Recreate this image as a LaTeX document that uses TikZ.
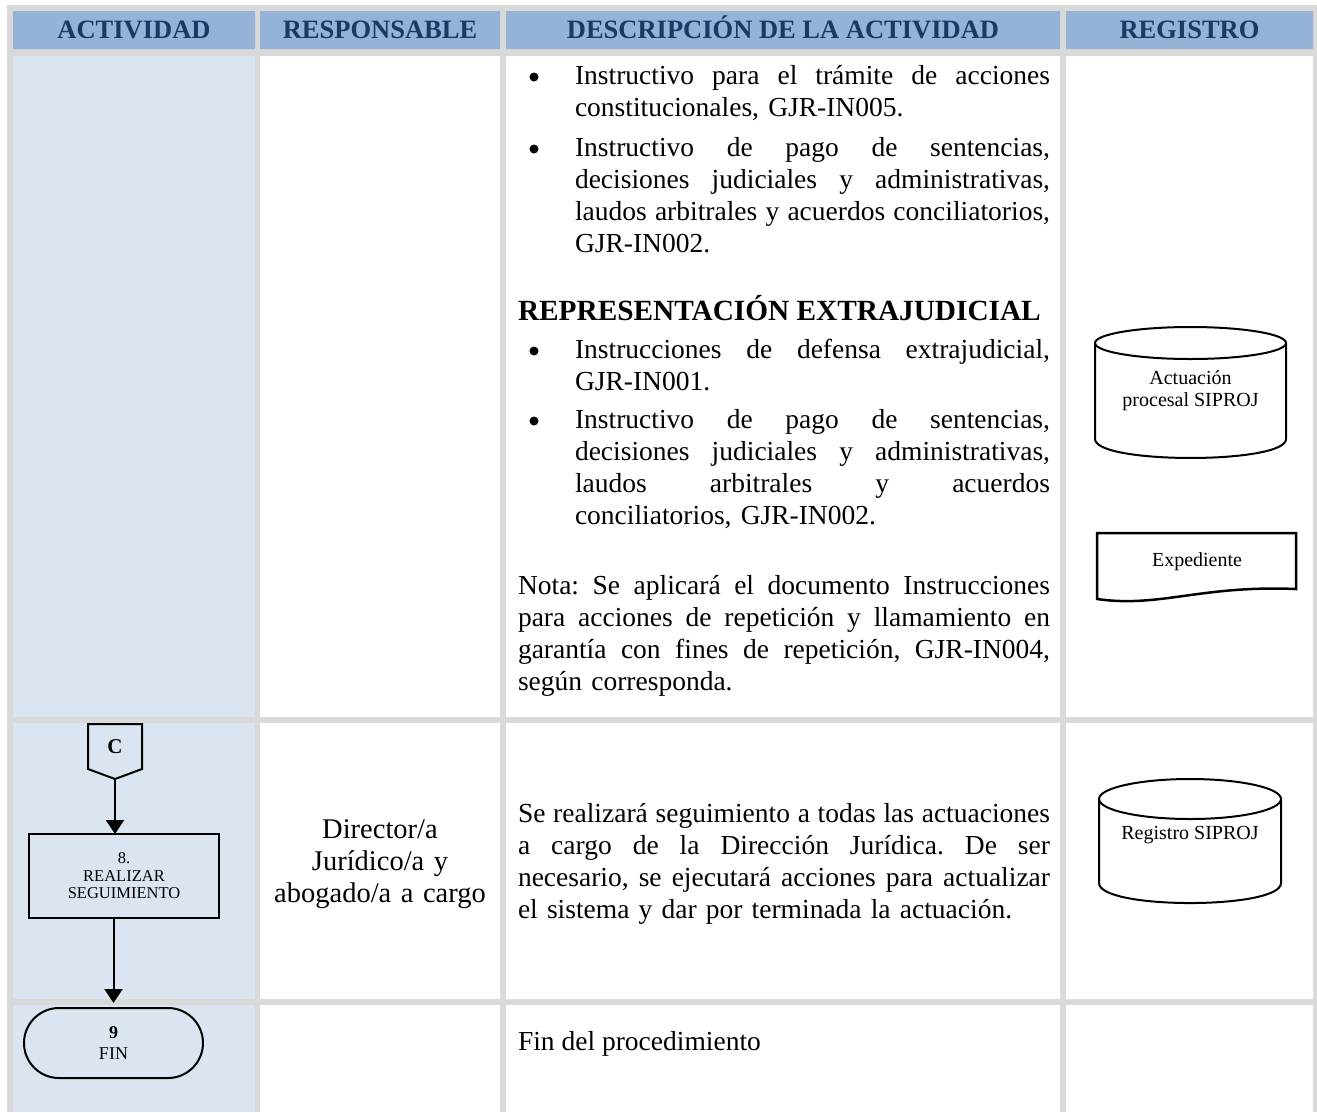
\documentclass[tikz,border=0pt]{standalone}
\usepackage{fontspec}
\setmainfont{Liberation Serif}
\usetikzlibrary{arrows.meta,calc}
\definecolor{gridgrey}{HTML}{D9D9D9}
\definecolor{headblue}{HTML}{95B3D7}
\definecolor{colblue}{HTML}{DBE5F1}
\definecolor{headtext}{HTML}{1B3A63}
\frenchspacing
\newcommand\JLa[1]{\leavevmode\hbox to 475bp{\spaceskip=0.25em plus 1em minus 0.08em\relax #1}}
\newcommand\JLb[1]{\leavevmode\hbox to 532bp{\spaceskip=0.25em plus 1em minus 0.08em\relax #1}}
\begin{document}
\begin{tikzpicture}[x=1bp,y=-1bp,
  every node/.style={inner sep=0pt, outer sep=0pt},
  hdr/.style={font=\fontsize{26.5bp}{30bp}\selectfont\bfseries, text=headtext, anchor=base},
  body/.style={font=\fontsize{27.5bp}{32bp}\selectfont, anchor=base west, align=left},
  dot/.style={circle, fill=black, minimum size=9bp},
  shapeline/.style={draw=black, line width=2bp},
  small/.style={font=\fontsize{16.5bp}{17.5bp}\selectfont, align=center},
  termtext/.style={font=\fontsize{18bp}{21bp}\selectfont, align=center},
  reg/.style={font=\fontsize{20bp}{22bp}\selectfont, align=center},
  flow/.style={line width=2bp, -{Triangle[width=18bp,length=14bp]}},
]
\useasboundingbox (0,0) rectangle (1317,1112);
\fill[white] (0,0) rectangle (1317,1112);
\fill[gridgrey] (7,5) rectangle (1317,1112);
% header cells
\fill[headblue] (13,11) rectangle (255,49) (260,11) rectangle (500,49)
  (506,11) rectangle (1060,49) (1066,11) rectangle (1313,49);
% body cells
\foreach \ya/\yb in {56/717, 723/999, 1005/1112} {
  \fill[colblue] (13,\ya) rectangle (255,\yb);
  \fill[white] (260,\ya) rectangle (500,\yb) (506,\ya) rectangle (1060,\yb)
    (1066,\ya) rectangle (1313,\yb);
}
% header texts
\node[hdr] (hact) at (134,38) {ACTIVIDAD};
\node[hdr] (hresp) at (380,38) {RESPONSABLE};
\node[hdr] (hdesc) at (783,38) {DESCRIPCIÓN DE LA ACTIVIDAD};
\node[hdr] (hreg) at (1189.5,38) {REGISTRO};

% row 1 description
\node[dot] (b1) at (534,77) {};
\node[body, text width=475bp] (d1) at (575,84)
  {\JLa{Instructivo para el trámite de acciones}\\constitucionales, GJR-IN005.};
\node[dot] (b2) at (534,149) {};
\node[body, text width=475bp] (d2) at (575,156)
  {\JLa{Instructivo de pago de sentencias,}\\\JLa{decisiones judiciales y administrativas,}\\\JLa{laudos arbitrales y acuerdos conciliatorios,}\\GJR-IN002.};
\node[font=\fontsize{29.3bp}{32bp}\selectfont\bfseries, anchor=base west] (rext) at (518,320)
  {REPRESENTACIÓN EXTRAJUDICIAL};
\node[dot] (b3) at (534,351) {};
\node[body, text width=475bp] (d3) at (575,358)
  {\JLa{Instrucciones de defensa extrajudicial,}\\GJR-IN001.};
\node[dot] (b4) at (534,421) {};
\node[body, text width=475bp] (d4) at (575,428)
  {\JLa{Instructivo de pago de sentencias,}\\\JLa{decisiones judiciales y administrativas,}\\\JLa{laudos arbitrales y acuerdos}\\conciliatorios, GJR-IN002.};
\node[body, text width=532bp] (nota) at (518,594)
  {\JLb{Nota: Se aplicará el documento Instrucciones}\\\JLb{para acciones de repetición y llamamiento en}\\\JLb{garantía con fines de repetición, GJR-IN004,}\\según corresponda.};

% row 2
\node[font=\fontsize{28.5bp}{32bp}\selectfont, text width=240bp, align=center, anchor=base] (resp) at (380,838)
  {Director/a\\Jurídico/a y\\abogado/a a cargo};
\node[body, text width=532bp] (d8) at (518,822)
  {\JLb{Se realizará seguimiento a todas las actuaciones}\\\JLb{a cargo de la Dirección Jurídica. De ser}\\\JLb{necesario, se ejecutará acciones para actualizar}\\el sistema y dar por terminada la actuación.};

% row 3
\node[body] (d9) at (518,1050) {Fin del procedimiento};

% activity flow
\node[minimum width=54bp, minimum height=45bp, font=\fontsize{21bp}{24bp}\selectfont\bfseries] (conn) at (115,746.5) {C};
\coordinate (ctip) at (115,779);
\draw[shapeline, line join=miter] (conn.north west) -- (conn.north east) -- (conn.south east)
  -- (ctip) -- (conn.south west) -- cycle;
\node[draw, line width=2.5bp, minimum width=190bp, minimum height=84bp, small] (act8) at (124,876)
  {8.\\REALIZAR\\SEGUIMIENTO};
\node[draw, line width=2bp, rounded corners=35bp, minimum width=179bp, minimum height=70bp, termtext] (term) at (113.5,1043)
  {\textbf{9}\\FIN};
\draw[flow] (ctip) -- (ctip |- act8.north);
\draw[flow, shorten >=5bp] (act8.south -| term.north) -- (term.north);

% registers
\node[reg] (cyl1) at (1190.5,391) {Actuación\\procesal SIPROJ};
\draw[shapeline] (1190.5,343) ellipse [x radius=95.5, y radius=16];
\draw[shapeline] (1095,343) -- (1095,439) .. controls (1095,464.3) and (1286,464.3) .. (1286,439) -- (1286,343);

\node[reg, anchor=base] (exp) at (1197,566) {Expediente};
\draw[line width=2.5bp, line join=miter] (1097,533) -- (1296,533) -- (1296,589)
  .. controls (1200,585) and (1160,608) .. (1097,599) -- cycle;

\node[reg, anchor=base] (cyl2) at (1190,839.5) {Registro SIPROJ};
\draw[shapeline] (1190,799) ellipse [x radius=91, y radius=20];
\draw[shapeline] (1099,799) -- (1099,883) .. controls (1099,909.7) and (1281,909.7) .. (1281,883) -- (1281,799);
\end{tikzpicture}
\end{document}
